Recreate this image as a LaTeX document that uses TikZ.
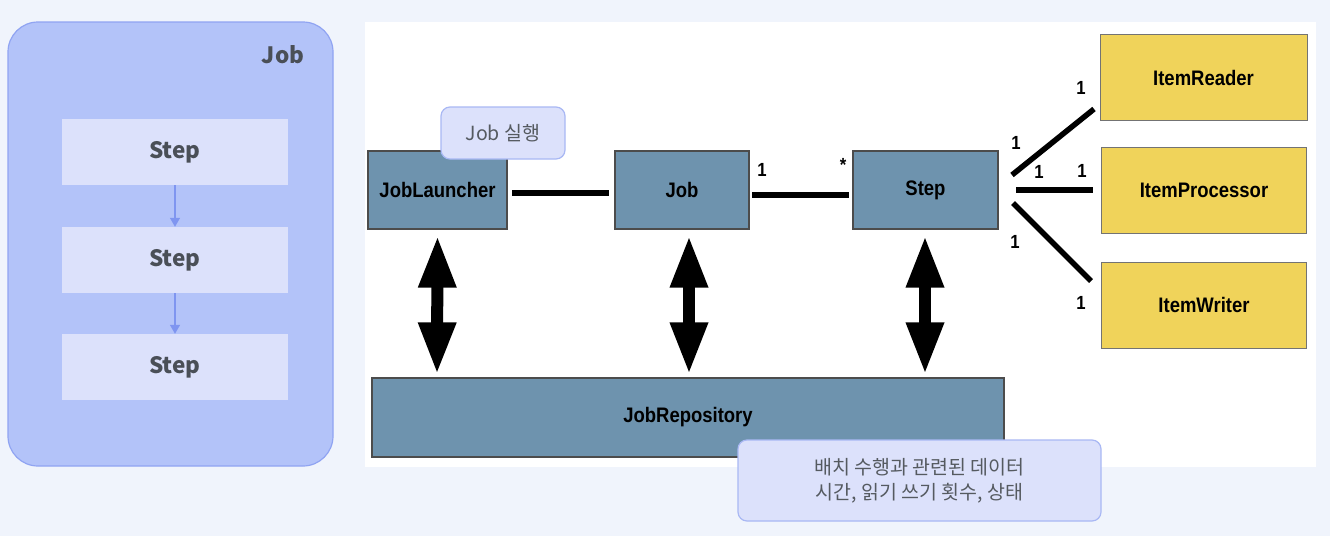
\documentclass[tikz,border=0pt]{standalone}
\usepackage{fontspec}
\setmainfont{Liberation Sans}
\newfontfamily\condfont[FakeStretch=0.88]{Liberation Sans}
\newfontfamily\kr{Noto Sans CJK KR}
\usetikzlibrary{arrows.meta,calc}
\definecolor{pagebg}{HTML}{F0F4FC}
\definecolor{jobfill}{HTML}{B3C3F9}
\definecolor{jobline}{HTML}{90A4F2}
\definecolor{stepfill}{HTML}{DCE1FB}
\definecolor{steparrow}{HTML}{7F95F0}
\definecolor{darktext}{HTML}{4A4F57}
\definecolor{boxblue}{HTML}{6E93AE}
\definecolor{boxyellow}{HTML}{F0D35A}
\definecolor{callfill}{HTML}{DCE1FB}
\definecolor{callline}{HTML}{A9B8F4}
\definecolor{calltext}{HTML}{555A60}
\tikzset{
  x=1pt, y=-1pt,
  leftstep/.style={fill=stepfill, draw=none, minimum width=226pt, minimum height=66pt, inner sep=0pt,
    font=\kr\bfseries\fontsize{22.5}{26}\selectfont, text=darktext},
  bluebox/.style={fill=boxblue, draw=black!70, line width=1.2pt, inner sep=0pt,
    font=\condfont\bfseries\fontsize{21}{24}\selectfont},
  yellowbox/.style={fill=boxyellow, draw=black!55, line width=1pt, inner sep=0pt,
    minimum width=205pt, minimum height=86pt, font=\condfont\bfseries\fontsize{21}{24}\selectfont},
  assoc/.style={line width=5.5pt},
  mult/.style={font=\condfont\bfseries\fontsize{19}{22}\selectfont, inner sep=0pt},
  bigarrow/.style={line width=12pt, {Triangle[width=35pt,length=52pt]}-{Triangle[width=35pt,length=52pt]}},
  callout/.style={fill=callfill, draw=callline, line width=1.2pt, rounded corners=9pt, inner sep=0pt,
    font=\kr\fontsize{19.5}{25}\selectfont, text=calltext, align=center},
}
\begin{document}
\begin{tikzpicture}
\fill[pagebg] (0,0) rectangle (1330,536);
\useasboundingbox (0,0) rectangle (1330,536);
% left job container
\draw[fill=jobfill, draw=jobline, line width=1.2pt, rounded corners=30pt] (8,22) rectangle (333,466);
\node[font=\kr\bfseries\fontsize{22.5}{26}\selectfont, text=darktext] (jobtitle) at (283,55) {Job};
\node[leftstep] (s1) at (175,152) {Step};
\node[leftstep] (s2) at (175,260) {Step};
\node[leftstep] (s3) at (175,367) {Step};
\draw[steparrow, line width=1.4pt, -{Triangle[width=10pt,length=9pt]}] (s1.south) -- (s2.north);
\draw[steparrow, line width=1.4pt, -{Triangle[width=10pt,length=9pt]}] (s2.south) -- (s3.north);
% white panel
\fill[white] (365,22) rectangle (1316,467);
% main boxes
\node[bluebox, minimum width=139pt, minimum height=78pt] (jl) at (437.5,190) {JobLauncher};
\node[bluebox, minimum width=134pt, minimum height=78pt] (job) at (682,190) {Job};
\node[bluebox, minimum width=145pt, minimum height=78pt] (step) at (925.5,190) {Step};
\node[bluebox, minimum width=632pt, minimum height=79pt] (repo) at (688,417.5) {JobRepository};
\node[yellowbox, minimum width=207pt] (reader) at (1203.5,77.5) {ItemReader};
\node[yellowbox] (proc) at (1204,190) {ItemProcessor};
\node[yellowbox] (writer) at (1204,305) {ItemWriter};
% associations
\coordinate (a1) at (512,193); \coordinate (a2) at (609,193);
\draw[assoc] (a1) -- (a2);
\coordinate (b1) at (752,195); \coordinate (b2) at (849,195);
\draw[assoc] (b1) -- (b2);
\node[mult] (m1) at (762,170) {1};
\node[mult] (m2) at (843,165) {*};
\coordinate (r1) at (1012,175); \coordinate (r2) at (1094,109);
\draw[assoc] (r1) -- (r2);
\coordinate (p1) at (1016,190); \coordinate (p2) at (1093,190);
\draw[assoc] (p1) -- (p2);
\coordinate (w1) at (1013,203); \coordinate (w2) at (1091,281);
\draw[assoc] (w1) -- (w2);
\node[mult] (n1) at (1081,88) {1};
\node[mult] (n2) at (1016,143) {1};
\node[mult] (n3) at (1039,172) {1};
\node[mult] (n4) at (1082,171) {1};
\node[mult] (n5) at (1015,242) {1};
\node[mult] (n6) at (1081,303) {1};
% double arrows to repository
\draw[bigarrow] ([yshift=-6pt]jl.south) -- ($(repo.north)+(-251,-3)$);
\draw[bigarrow] ([xshift=7pt,yshift=-6pt]job.south) -- ($(repo.north)+(1,-3)$);
\draw[bigarrow] ([xshift=-0.5pt,yshift=-6pt]step.south) -- ($(repo.north)+(237,-3)$);
% callouts
\node[callout, minimum width=124pt, minimum height=52pt] (c1) at (503,133) {Job 실행};
\node[callout, minimum width=363pt, minimum height=81pt] (c2) at (919.5,480.5) {배치 수행과 관련된 데이터\\시간, 읽기 쓰기 횟수, 상태};
\end{tikzpicture}
\end{document}
